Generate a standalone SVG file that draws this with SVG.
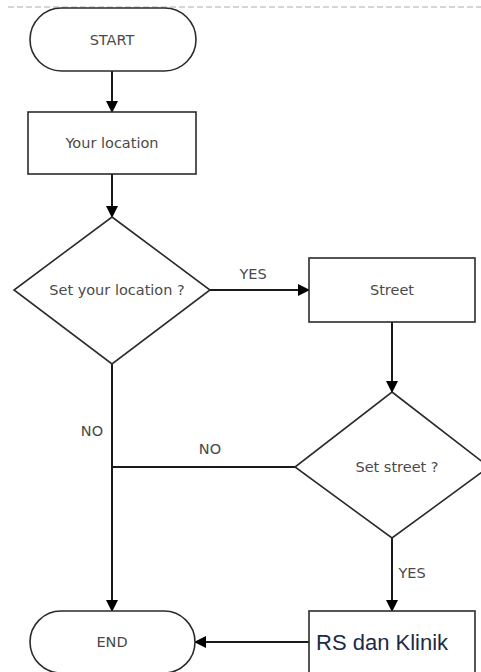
<svg xmlns="http://www.w3.org/2000/svg" width="481" height="672" viewBox="0 0 481 672">
<style>
.shape{fill:#fff;stroke:#2b2b2b;stroke-width:1.6}
.lbl{font-family:"DejaVu Sans",sans-serif;font-size:14.5px;fill:#4a4a4a;text-anchor:middle}
.edge{stroke:#1a1a1a;stroke-width:2;fill:none}
</style>
<defs>
<marker id="ah" markerWidth="12" markerHeight="12" refX="11" refY="6" orient="auto" markerUnits="userSpaceOnUse">
<path d="M0,0 L12,6 L0,12 Z" fill="#000"/>
</marker>
</defs>
<line x1="8" y1="7" x2="481" y2="7" stroke="#c8c8c8" stroke-width="1.5" stroke-dasharray="6,3"/>
<g id="connectors">
<line class="edge" x1="112" y1="71" x2="112" y2="112" marker-end="url(#ah)"/>
<line class="edge" x1="112" y1="174" x2="112" y2="217" marker-end="url(#ah)"/>
<line class="edge" x1="210" y1="290" x2="309" y2="290" marker-end="url(#ah)"/>
<line class="edge" x1="392" y1="322" x2="392" y2="392" marker-end="url(#ah)"/>
<line class="edge" x1="295" y1="467" x2="112" y2="467"/>
<line class="edge" x1="112" y1="364" x2="112" y2="611" marker-end="url(#ah)"/>
<line class="edge" x1="392" y1="538" x2="392" y2="611" marker-end="url(#ah)"/>
<line class="edge" x1="309" y1="642" x2="195" y2="642" marker-end="url(#ah)"/>
<text class="lbl" x="253" y="279">YES</text>
<text class="lbl" x="92" y="436">NO</text>
<text class="lbl" x="210" y="454">NO</text>
<text class="lbl" x="412" y="578">YES</text>
</g>
<g id="start">
<rect class="shape" x="30" y="8" width="166" height="63" rx="31.5" ry="31.5"/>
<text class="lbl" x="112" y="45">START</text>
</g>
<g id="your-location">
<rect class="shape" x="28" y="112" width="168" height="62"/>
<text class="lbl" x="112" y="148">Your location</text>
</g>
<g id="set-location">
<polygon class="shape" points="112,217 210,290 112,364 14,290"/>
<text class="lbl" x="117" y="295">Set your location ?</text>
</g>
<g id="street">
<rect class="shape" x="309" y="258" width="166" height="64"/>
<text class="lbl" x="392" y="295">Street</text>
</g>
<g id="set-street">
<polygon class="shape" points="392,392 489,467 392,538 295,467"/>
<text class="lbl" x="397" y="472">Set street ?</text>
</g>
<g id="end">
<rect class="shape" x="30" y="611" width="165" height="62" rx="31" ry="31"/>
<text class="lbl" x="112" y="647">END</text>
</g>
<g id="rs-klinik">
<rect class="shape" x="309" y="611" width="166" height="70"/>
<text x="316" y="650" font-family="Liberation Sans, sans-serif" font-size="22" fill="#1c2a4a">RS dan Klinik</text>
</g>
</svg>
